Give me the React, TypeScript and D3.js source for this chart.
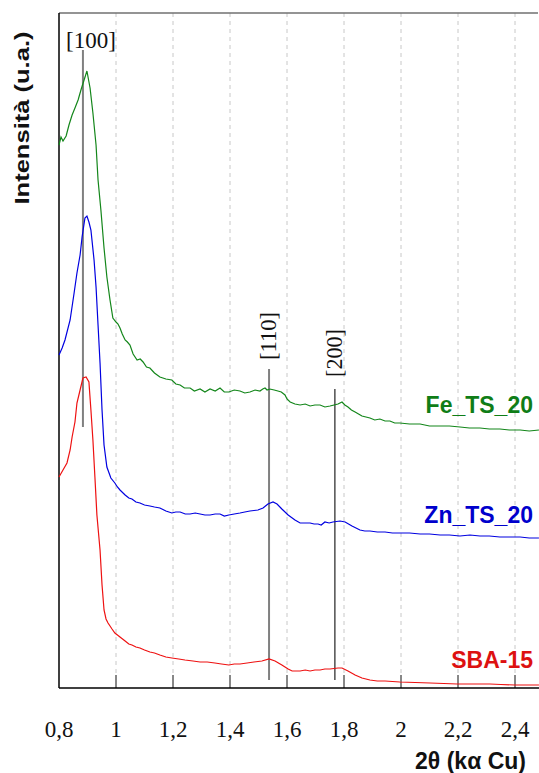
import React from "react";
import * as d3 from "d3";

// 2θ tick values and their labels
const xTicks = [0.8, 1, 1.2, 1.4, 1.6, 1.8, 2, 2.2, 2.4];
const xTickLabels = ["0,8", "1", "1,2", "1,4", "1,6", "1,8", "2", "2,2", "2,4"];

// reflection positions (2θ) and marker extent (a.u.)
const reflections = [
  { name: "[100]", pos: 0.884, top: 63.8, bottom: 26.1 },
  { name: "[110]", pos: 1.537, top: 31.9, bottom: 0.8 },
  { name: "[200]", pos: 1.768, top: 29.9, bottom: 0.8 },
];

// [2θ, intensity a.u.]
const feTS20: [number, number][] = [
  [0.8, 54.3], [0.807, 55.1], [0.814, 54.7], [0.825, 55.2], [0.835, 56.3],
  [0.846, 57.3], [0.856, 58.0], [0.867, 58.8], [0.877, 59.8], [0.888, 60.8],
  [0.898, 61.7], [0.909, 60.0], [0.919, 57.5], [0.93, 54.3], [0.937, 50.8],
  [0.947, 47.8], [0.958, 44.0], [0.968, 41.1], [0.979, 38.8], [0.989, 37.0],
  [1.0, 36.6], [1.007, 36.4], [1.014, 36.0], [1.022, 35.4], [1.032, 34.8],
  [1.04, 34.6], [1.049, 34.3], [1.06, 33.4], [1.074, 32.8], [1.085, 32.9],
  [1.095, 32.6], [1.107, 32.1], [1.119, 32.0], [1.135, 31.5], [1.154, 31.1],
  [1.175, 30.9], [1.196, 30.8], [1.21, 30.4], [1.225, 30.3], [1.24, 30.0],
  [1.26, 30.0], [1.275, 29.7], [1.295, 29.9], [1.312, 29.6], [1.33, 29.9],
  [1.348, 29.7], [1.365, 30.0], [1.38, 29.6], [1.396, 29.6], [1.415, 29.8],
  [1.435, 29.7], [1.452, 29.5], [1.47, 29.6], [1.488, 29.8], [1.505, 29.7],
  [1.515, 29.9], [1.523, 30.0], [1.53, 29.8], [1.54, 29.9], [1.555, 29.8],
  [1.568, 29.7], [1.58, 29.6], [1.593, 29.3], [1.6, 28.9], [1.611, 28.6],
  [1.628, 28.4], [1.646, 28.3], [1.664, 28.4], [1.681, 28.2], [1.698, 28.3],
  [1.716, 28.3], [1.733, 28.1], [1.751, 28.2], [1.765, 28.3], [1.779, 28.4],
  [1.793, 28.6], [1.803, 28.3], [1.814, 28.1], [1.826, 27.8], [1.839, 27.6],
  [1.851, 27.4], [1.863, 27.2], [1.877, 27.1], [1.891, 27.0], [1.908, 26.8],
  [1.926, 26.9], [1.944, 26.7], [1.961, 26.7], [1.978, 26.5], [1.996, 26.5],
  [2.03, 26.4], [2.067, 26.4], [2.1, 26.2], [2.137, 26.2], [2.17, 26.2],
  [2.207, 26.1], [2.24, 26.0], [2.277, 26.0], [2.31, 25.9], [2.347, 25.9],
  [2.38, 25.8], [2.418, 25.8], [2.45, 25.7], [2.484, 25.8],
];

const znTS20: [number, number][] = [
  [0.8, 33.3], [0.811, 34.0], [0.821, 34.8], [0.839, 36.8], [0.853, 39.5],
  [0.863, 41.5], [0.874, 43.3], [0.881, 45.1], [0.891, 47.0], [0.898, 47.2],
  [0.905, 46.6], [0.912, 45.8], [0.923, 42.8], [0.93, 40.1], [0.937, 36.3],
  [0.944, 32.5], [0.951, 27.8], [0.958, 24.3], [0.968, 22.1], [0.982, 21.0],
  [0.996, 20.5], [1.005, 20.1], [1.014, 19.8], [1.032, 19.3], [1.045, 19.0],
  [1.056, 18.9], [1.07, 18.6], [1.084, 18.5], [1.1, 18.3], [1.119, 18.2],
  [1.135, 18.1], [1.154, 18.0], [1.175, 17.7], [1.196, 17.5], [1.21, 17.6],
  [1.225, 17.6], [1.243, 17.4], [1.26, 17.4], [1.278, 17.5], [1.295, 17.4],
  [1.312, 17.3], [1.33, 17.3], [1.348, 17.4], [1.365, 17.4], [1.38, 17.2],
  [1.396, 17.3], [1.415, 17.4], [1.435, 17.5], [1.452, 17.6], [1.47, 17.7],
  [1.498, 17.8], [1.516, 18.0], [1.533, 18.4], [1.551, 18.6], [1.565, 18.4],
  [1.582, 17.9], [1.604, 17.3], [1.628, 16.8], [1.646, 16.5], [1.664, 16.5],
  [1.681, 16.5], [1.695, 16.4], [1.709, 16.4], [1.72, 16.3], [1.733, 16.6],
  [1.748, 16.5], [1.761, 16.6], [1.786, 16.7], [1.804, 16.6], [1.828, 16.2],
  [1.856, 15.8], [1.873, 15.7], [1.891, 15.7], [1.917, 15.6], [1.944, 15.6],
  [1.97, 15.5], [1.996, 15.5], [2.03, 15.5], [2.067, 15.4], [2.1, 15.4],
  [2.137, 15.3], [2.17, 15.3], [2.207, 15.2], [2.242, 15.3], [2.277, 15.2],
  [2.31, 15.2], [2.347, 15.1], [2.38, 15.1], [2.418, 15.1], [2.45, 15.0],
  [2.484, 15.0],
];

const sba15: [number, number][] = [
  [0.8, 21.1], [0.814, 21.8], [0.828, 22.5], [0.839, 23.8], [0.846, 25.1],
  [0.856, 26.6], [0.863, 28.5], [0.874, 29.8], [0.884, 31.0], [0.895, 31.1],
  [0.905, 30.6], [0.912, 27.8], [0.919, 24.8], [0.926, 21.1], [0.933, 17.3],
  [0.944, 13.8], [0.951, 10.3], [0.958, 7.8], [0.965, 6.9], [0.972, 6.5],
  [0.986, 5.9], [0.996, 5.5], [1.005, 5.3], [1.014, 5.1], [1.023, 4.9],
  [1.032, 4.7], [1.045, 4.4], [1.056, 4.3], [1.07, 4.1], [1.084, 4.0],
  [1.1, 3.8], [1.119, 3.6], [1.135, 3.5], [1.154, 3.3], [1.175, 3.1],
  [1.196, 3.0], [1.22, 2.9], [1.242, 2.8], [1.27, 2.7], [1.295, 2.6],
  [1.32, 2.6], [1.347, 2.5], [1.37, 2.4], [1.396, 2.3], [1.415, 2.4],
  [1.435, 2.4], [1.46, 2.5], [1.484, 2.6], [1.512, 2.7], [1.537, 2.9],
  [1.558, 2.7], [1.582, 2.3], [1.604, 1.9], [1.618, 1.7], [1.632, 1.7],
  [1.646, 1.7], [1.664, 1.8], [1.681, 1.7], [1.698, 1.8], [1.716, 1.8],
  [1.733, 1.9], [1.751, 1.9], [1.779, 2.0], [1.793, 2.0], [1.814, 1.7],
  [1.839, 1.3], [1.863, 1.0], [1.891, 0.8], [1.917, 0.7], [1.944, 0.7],
  [1.996, 0.6], [2.05, 0.55], [2.102, 0.5], [2.15, 0.45], [2.197, 0.4],
  [2.25, 0.4], [2.312, 0.4], [2.35, 0.35], [2.4, 0.3], [2.45, 0.3],
  [2.484, 0.3],
];

const series = [
  { name: "Fe_TS_20", data: feTS20, color: "#13861a", label: "#0f7d17", labelY: 413 },
  { name: "Zn_TS_20", data: znTS20, color: "#0000e0", label: "#0000cc", labelY: 523 },
  { name: "SBA-15", data: sba15, color: "#ee1111", label: "#dd1111", labelY: 668 },
];

const W = 539;
const H = 773;
const margin = { top: 13, left: 59, bottom: 85 };

export default function App() {
  const x = d3.scaleLinear().domain([0.8, 2.5]).range([margin.left, margin.left + 1.7 * 285]);
  const y = d3.scaleLinear().domain([0, 67.5]).range([H - margin.bottom, margin.top]);
  const y0 = H - margin.bottom;

  const line = d3
    .line<[number, number]>()
    .x(d => x(d[0]))
    .y(d => y(d[1]));

  const serif = "'Liberation Serif', 'Times New Roman', serif";
  const sans = "'Liberation Sans', Arial, sans-serif";

  return (
    <svg
      width={W}
      height={H}
      style={{ position: "absolute", left: 0, top: 0, background: "#fff" }}
    >
      <rect width={W} height={H} fill="#fff" />
      {/* dashed grid */}
      {xTicks.slice(1).map(t => (
        <line
          key={"g" + t}
          x1={x(t)}
          x2={x(t)}
          y1={margin.top}
          y2={y0 - 13}
          stroke="#c8c8c8"
          strokeWidth={1}
          strokeDasharray="4 4"
        />
      ))}
      {/* ticks */}
      {xTicks.slice(1).map(t => (
        <line key={"t" + t} x1={x(t)} x2={x(t)} y1={y0 - 13} y2={y0} stroke="#111" strokeWidth={1} />
      ))}
      {/* frame */}
      <line x1={margin.left} x2={538} y1={margin.top} y2={margin.top} stroke="#707070" strokeWidth={1.5} />
      <line x1={margin.left} x2={margin.left} y1={margin.top} y2={y0} stroke="#000" strokeWidth={1.5} />
      <line x1={margin.left} x2={W} y1={y0} y2={y0} stroke="#000" strokeWidth={1.5} />

      {/* reflection markers */}
      {reflections.map((r, i) => (
        <line
          key={r.name}
          x1={x(r.pos)}
          x2={x(r.pos)}
          y1={y(r.top)}
          y2={y(r.bottom)}
          stroke={i === 2 ? "#333" : "#808080"}
          strokeWidth={i === 2 ? 1.3 : 2}
        />
      ))}

      {/* curves */}
      {series.map(s => (
        <path key={s.name} d={line(s.data) || ""} fill="none" stroke={s.color} strokeWidth={1.2} />
      ))}

      {/* reflection labels */}
      <text x={x(reflections[0].pos) + 8} y={48} textAnchor="middle" fontFamily={serif} fontSize={23} fill="#111">
        {reflections[0].name}
      </text>
      {reflections.slice(1).map(r => {
        const cx = x(r.pos) + 7;
        const cy = r.name === "[110]" ? 336 : 353;
        return (
          <text
            key={"l" + r.name}
            transform={`translate(${cx},${cy}) rotate(-90)`}
            textAnchor="middle"
            fontFamily={serif}
            fontSize={24}
            textLength={48}
            lengthAdjust="spacingAndGlyphs"
            fill="#111"
          >
            {r.name}
          </text>
        );
      })}

      {/* series labels */}
      {series.map(s => (
        <text
          key={"s" + s.name}
          x={533}
          y={s.labelY}
          textAnchor="end"
          fontFamily={sans}
          fontWeight="bold"
          fontSize={23}
          fill={s.label}
        >
          {s.name}
        </text>
      ))}

      {/* x tick labels */}
      {xTicks.map((t, i) => (
        <text key={"xl" + t} x={x(t)} y={737} textAnchor="middle" fontFamily={serif} fontSize={23} fill="#111">
          {xTickLabels[i]}
        </text>
      ))}

      {/* axis titles */}
      <text x={526} y={769} textAnchor="end" fontFamily={sans} fontWeight="bold" fontSize={23} fill="#111">
        2θ (kα Cu)
      </text>
      <text
        transform={`translate(29,118) rotate(-90)`}
        textAnchor="middle"
        fontFamily={sans}
        fontWeight="bold"
        fontSize={21}
        textLength={173}
        lengthAdjust="spacingAndGlyphs"
        fill="#111"
      >
        Intensità (u.a.)
      </text>
    </svg>
  );
}
